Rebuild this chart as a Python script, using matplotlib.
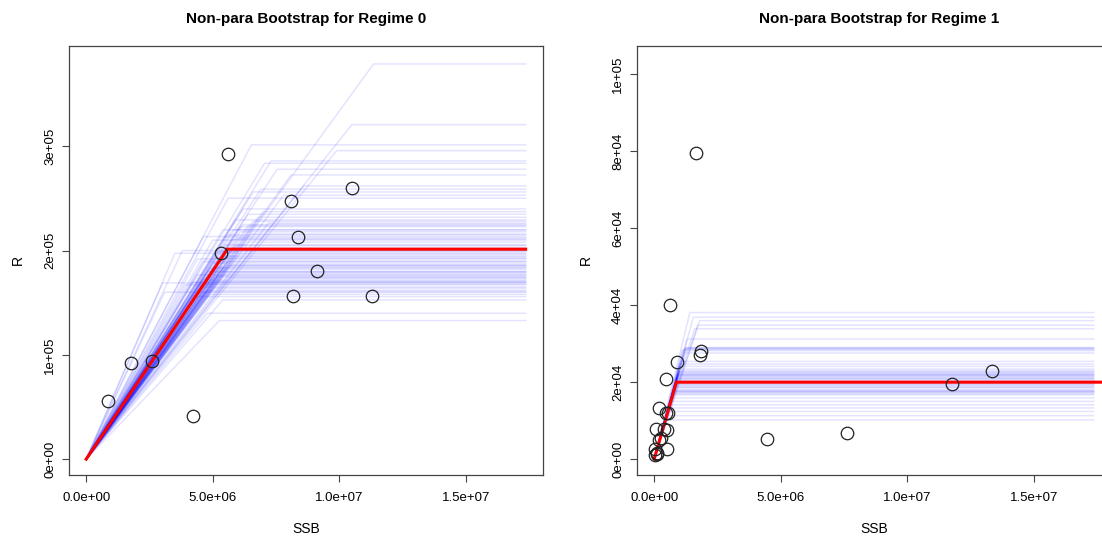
import numpy as np
import matplotlib.pyplot as plt
from matplotlib.ticker import FixedLocator

plt.rcParams['font.family'] = ['Liberation Sans', 'DejaVu Sans']

# ---- Regime 0 data (SSB in 1e6, R in 1e5) ----
ssb0 = [0.86, 1.79, 2.62, 4.21, 5.33, 5.61, 8.09, 8.16, 8.37, 9.13, 10.50, 11.30]
rec0 = [0.559, 0.92, 0.942, 0.415, 1.98, 2.93, 2.477, 1.563, 2.128, 1.802, 2.598, 1.563]
fit0_bp, fit0_r = 5.58, 2.013

# bootstrap hockey sticks: breakpoint SSB (1e6) and plateau R (1e5)
boot0_bp = [11.36, 10.50, 6.53, 9.90, 7.31, 7.05, 7.55, 8.10, 8.60, 6.90, 6.60, 7.80,
            5.61, 6.20, 7.00, 6.40, 6.80, 5.90, 7.20, 6.10, 5.40, 6.50, 4.63, 5.80,
            6.30, 5.50, 5.20, 3.51, 6.00, 5.10, 4.60, 5.70, 4.90, 5.30, 4.40, 5.60,
            4.20, 3.90, 5.00, 4.70, 4.30, 5.40, 4.80, 5.27, 5.00, 5.90, 5.40, 5.00,
            4.80, 5.20, 4.60, 5.60, 5.70, 5.60, 4.40, 5.50, 3.02, 3.10, 3.80, 5.10,
            4.50, 5.80, 6.20, 4.90, 5.30, 5.60, 4.70, 5.10, 6.00, 5.50, 4.90, 5.80,
            6.10, 4.50, 5.20, 6.40, 5.00, 4.80, 5.40, 6.60]
boot0_r = [3.789, 3.207, 3.013, 2.958, 2.859, 2.837, 2.780, 2.725, 2.620, 2.588, 2.562, 2.530,
           2.502, 2.399, 2.373, 2.348, 2.319, 2.294, 2.262, 2.230, 2.198, 2.159, 2.134, 2.109,
           2.080, 2.054, 1.990, 1.974, 1.965, 1.926, 1.894, 1.862, 1.831, 1.798, 1.767, 1.735,
           1.696, 1.671, 1.639, 1.607, 1.559, 1.527, 1.399, 1.329, 2.100, 2.050, 1.950, 1.880,
           1.800, 1.750, 1.720, 1.850, 2.000, 2.150, 1.920, 1.780, 1.690, 1.600, 2.000, 1.700,
           1.650, 2.200, 2.250, 1.580, 1.820, 1.900, 1.740, 1.760, 2.120, 1.860, 1.710, 2.030,
           2.180, 1.680, 1.840, 2.240, 1.790, 1.620, 1.940, 2.280]

# ---- Regime 1 data (SSB in 1e6, R in 1e4) ----
ssb1 = [1.64, 0.63, 0.92, 1.86, 1.82, 0.45, 0.205, 0.56, 0.46, 0.07, 0.38, 0.52,
        0.25, 0.20, 0.52, 0.05, 0.10, 0.05, 0.12, 4.44, 7.63, 11.77, 13.37]
rec1 = [7.95, 4.00, 2.53, 2.80, 2.71, 2.09, 1.34, 1.21, 1.19, 0.79, 0.77, 0.76,
        0.55, 0.50, 0.26, 0.26, 0.16, 0.10, 0.12, 0.53, 0.68, 1.95, 2.28]
fit1_bp, fit1_r = 0.88, 2.0

boot1_bp = [1.41, 1.55, 1.80, 1.72, 1.60, 1.30, 1.25, 1.10, 1.20, 1.05, 1.00, 0.98,
            1.02, 0.95, 0.92, 0.90, 0.88, 0.82, 0.80, 0.78, 0.75, 0.72, 0.70, 0.65,
            0.62, 0.60, 0.56, 0.52, 0.48, 0.93, 0.90, 0.86, 0.85, 0.76, 1.00, 1.15, 1.28,
            0.96, 0.91, 0.84, 0.80, 0.77, 0.74, 0.94, 0.89, 0.83, 1.22, 0.97, 0.79]
boot1_r = [3.81, 3.69, 3.60, 3.48, 3.39, 3.12, 2.89, 2.82, 2.76, 2.54, 2.47, 2.41,
           2.34, 2.25, 2.19, 2.15, 2.08, 1.93, 1.87, 1.80, 1.73, 1.67, 1.59, 1.50,
           1.41, 1.33, 1.24, 1.13, 1.02, 2.22, 2.12, 2.05, 1.98, 1.75, 2.30, 2.85, 2.90,
           2.20, 2.10, 1.95, 1.85, 1.78, 1.70, 2.17, 2.02, 1.90, 2.87, 2.27, 1.76]

ssb_end = 17.37e6


def draw_panel(ax, ssb, rec, bp, plat, fit_bp, fit_r, rscale, fit_end, title):
    for b, p in zip(bp, plat):
        ax.plot([0, b * 1e6, ssb_end], [0, p * rscale, p * rscale],
                color='blue', alpha=0.11, lw=1.1, zorder=1)
    ax.plot([0, fit_bp * 1e6, fit_end], [0, fit_r * rscale, fit_r * rscale],
            color='red', lw=2.2, zorder=3, solid_joinstyle='miter')
    ax.plot(np.array(ssb) * 1e6, np.array(rec) * rscale, 'o', mfc='none',
            mec='#222222', ms=9, mew=0.9, zorder=4)
    ax.set_title(title, fontsize=11, fontweight='bold', pad=16)
    ax.set_xlabel('SSB', fontsize=10, labelpad=13)
    ax.set_ylabel('R', fontsize=10, labelpad=14)
    for s in ax.spines.values():
        s.set_color('#444444')
        s.set_linewidth(0.9)
    ax.tick_params(direction='out', length=5, width=0.8, color='#444444', labelsize=9.5)
    ax.tick_params(axis='x', pad=7)
    ax.tick_params(axis='y', pad=4)
    ax.set_xlim(-0.04 * ssb_end, 1.04 * ssb_end)
    xt = [0, 5e6, 1e7, 1.5e7]
    ax.xaxis.set_major_locator(FixedLocator(xt))
    ax.set_xticklabels(['0.0e+00', '5.0e+06', '1.0e+07', '1.5e+07'])


fig = plt.figure(figsize=(11.02, 5.41), dpi=100)
ax0 = fig.add_axes([68.6 / 1102, 66 / 541, 474.6 / 1102, 429.3 / 541])
ax1 = fig.add_axes([636.6 / 1102, 66 / 541, 474.6 / 1102, 429.3 / 541])

draw_panel(ax0, ssb0, rec0, boot0_bp, boot0_r, fit0_bp, fit0_r, 1e5, ssb_end,
           'Non-para Bootstrap for Regime 0')
ax0.set_ylim(-0.152e5, 3.964e5)
ax0.yaxis.set_major_locator(FixedLocator([0, 1e5, 2e5, 3e5]))
ax0.set_yticklabels(['0e+00', '1e+05', '2e+05', '3e+05'], rotation=90, va='center')

draw_panel(ax1, ssb1, rec1, boot1_bp, boot1_r, fit1_bp, fit1_r, 1e4, 1.8e7,
           'Non-para Bootstrap for Regime 1')
ax1.set_ylim(-4130, 1.0747e5)
ax1.yaxis.set_major_locator(FixedLocator([0, 2e4, 4e4, 6e4, 8e4, 1e5]))
ax1.set_yticklabels(['0e+00', '2e+04', '4e+04', '6e+04', '8e+04', '1e+05'],
                    rotation=90, va='center')
# the right panel is clipped by the image edge; centre its title as in the reference
ax1.title.set_x((879 - 636.6) / 474.6)

fig.savefig('out.png', dpi=100)
